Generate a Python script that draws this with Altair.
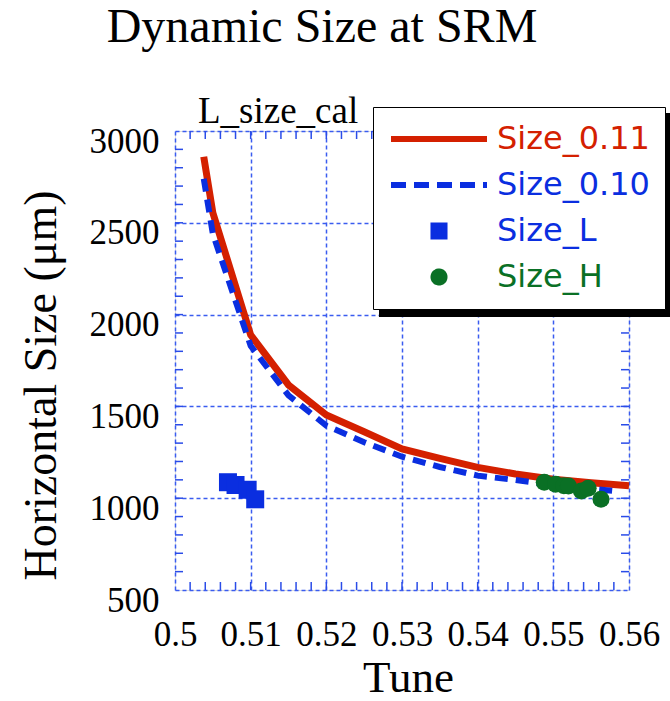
import altair as alt
import pandas as pd

# Beam size at the synchrotron radiation monitor versus tune
SERIES = ["Size_0.11", "Size_0.10", "Size_L", "Size_H"]
COLORS = ["#d42000", "#0a2ee0", "#0a2ee0", "#0a7025"]

tune_011 = [0.5038, 0.505, 0.51, 0.515, 0.52, 0.525, 0.53, 0.535, 0.54, 0.545, 0.55, 0.555, 0.56]
size_011 = [2860, 2555, 1889, 1617, 1453, 1362, 1268, 1217, 1168, 1132, 1103, 1084, 1068]

tune_010 = [0.5038, 0.505, 0.51, 0.515, 0.52, 0.525, 0.53, 0.535, 0.54, 0.545, 0.55, 0.555, 0.558]
size_010 = [2740, 2440, 1830, 1560, 1395, 1305, 1226, 1170, 1123, 1099, 1072, 1052, 1040]

tune_L = [0.5070, 0.5080, 0.5096, 0.5106]
size_L = [1087, 1072, 1046, 994]

tune_H = [0.5488, 0.5503, 0.5514, 0.5520, 0.5537, 0.5546, 0.5563]
size_H = [1087, 1076, 1068, 1067, 1039, 1054, 994]

x_major = [0.50, 0.51, 0.52, 0.53, 0.54, 0.55, 0.56]
y_major = [500, 1000, 1500, 2000, 2500, 3000]
x_minor = [round(0.500 + 0.002 * i, 3) for i in range(1, 30)]
y_minor = [500 + 100 * i for i in range(1, 25)]

W, H = 454, 459
FRAME = "#2a4ce8"
GRID = "#3a5cf0"
SERIF = "Liberation Serif"
SANS = "DejaVu Sans"

df_011 = pd.DataFrame({"tune": tune_011, "size": size_011, "series": "Size_0.11"})
df_010 = pd.DataFrame({"tune": tune_010, "size": size_010, "series": "Size_0.10"})
df_L = pd.DataFrame({"tune": tune_L, "size": size_L, "series": "Size_L"})
df_H = pd.DataFrame({"tune": tune_H, "size": size_H, "series": "Size_H"})

x_scale = alt.Scale(domain=[0.5, 0.56], nice=False, zero=False)
y_scale = alt.Scale(domain=[500, 3000], nice=False, zero=False)
c_scale = alt.Scale(domain=SERIES, range=COLORS)

x_axis = alt.Axis(
    values=x_major, format=".2~f", grid=True, gridColor=GRID, gridDash=[4, 3], gridWidth=1.5,
    ticks=False, domain=False, labelFont=SERIF, labelFontSize=35, labelColor="black",
    labelPadding=27, labelFlush=False, labelOverlap=False,
    title="Tune", titleFont=SERIF, titleFontSize=45, titleFontWeight="normal", titleColor="black",
    titleX=233, titleY=101, titleAlign="center", titleBaseline="alphabetic",
)
y_axis = alt.Axis(
    values=y_major, format="d", grid=True, gridColor=GRID, gridDash=[4, 3], gridWidth=1.5,
    ticks=False, domain=False, labelFont=SERIF, labelFontSize=35, labelColor="black",
    labelPadding=16, labelOffset=10, labelFlush=False, labelOverlap=False,
    title="Horizontal Size (μm)", titleFont=SERIF, titleFontSize=46, titleFontWeight="normal",
    titleColor="black", titleX=-120, titleY=254, titleAlign="center", titleBaseline="alphabetic",
)

# one legend: line samples for the two curves, square / circle for the measurements.
# symbols share one 96 px frame; the marker paths are drawn small inside it.
is_point = "indexof(['Size_L','Size_H'], datum.value) >= 0"
SQUARE = "M-0.115,-0.115H0.115V0.115H-0.115Z"
CIRCLE = "M-0.115,0A0.115,0.115,0,1,1,0.115,0A0.115,0.115,0,1,1,-0.115,0Z"
legend = alt.Legend(
    title=None, orient="none", legendX=198, legendY=-24,
    fillColor="white", strokeColor="black", padding=15,
    clipHeight=34, rowPadding=12,
    symbolType={"expr": f"{is_point} ? (datum.value == 'Size_L' ? '{SQUARE}' : '{CIRCLE}') : 'stroke'"},
    symbolSize=9216,
    symbolStrokeWidth=6,
    symbolDash={"expr": "datum.value == 'Size_0.10' ? [15, 8] : [1, 0]"},
    symbolFillColor={"expr": "scale('color', datum.value)"},
    symbolStrokeColor={"expr": "scale('color', datum.value)"},
    symbolOpacity=1,
    labelColor={"expr": "scale('color', datum.value)"},
    labelFont=SANS, labelFontSize=32, labelOffset=7, labelLimit=400, labelBaseline="middle",
)

X = alt.X("tune:Q", scale=x_scale, axis=x_axis)
Y = alt.Y("size:Q", scale=y_scale, axis=y_axis)

# inward minor ticks on all four sides of the frame
ticks_bottom = alt.Chart(pd.DataFrame({"t": x_minor})).mark_rule(color=FRAME, strokeWidth=1.5).encode(
    x=alt.X("t:Q", scale=x_scale), y=alt.value(H), y2=alt.value(H - 8))
ticks_top = alt.Chart(pd.DataFrame({"t": x_minor})).mark_rule(color=FRAME, strokeWidth=1.5).encode(
    x=alt.X("t:Q", scale=x_scale), y=alt.value(0), y2=alt.value(8))
ticks_left = alt.Chart(pd.DataFrame({"v": y_minor})).mark_rule(color=FRAME, strokeWidth=1.5).encode(
    y=alt.Y("v:Q", scale=y_scale), x=alt.value(0), x2=alt.value(8))
ticks_right = alt.Chart(pd.DataFrame({"v": y_minor})).mark_rule(color=FRAME, strokeWidth=1.5).encode(
    y=alt.Y("v:Q", scale=y_scale), x=alt.value(W), x2=alt.value(W - 8))

line_011 = alt.Chart(df_011).mark_line(strokeWidth=7, strokeJoin="miter").encode(
    x=X, y=Y, color=alt.Color("series:N", scale=c_scale, legend=legend))
line_010 = alt.Chart(df_010).mark_line(strokeWidth=6, strokeDash=[13, 8]).encode(
    x=X, y=Y, color=alt.Color("series:N", scale=c_scale, legend=None))
pts_L = alt.Chart(df_L).mark_square(size=324, opacity=1).encode(
    x=X, y=Y, color=alt.Color("series:N", scale=c_scale, legend=None))
pts_H = alt.Chart(df_H).mark_circle(size=290, opacity=1).encode(
    x=X, y=Y, color=alt.Color("series:N", scale=c_scale, legend=None))

# drop shadow behind the legend box
shadow = alt.Chart(pd.DataFrame({"k": [0]})).mark_rect(color="black").encode(
    x=alt.value(204), x2=alt.value(500), y=alt.value(-18), y2=alt.value(186))

plot_name = alt.Chart(pd.DataFrame({"k": [0]})).mark_text(
    text="L_size_cal", font=SERIF, fontSize=37, align="left", baseline="alphabetic", color="black"
).encode(x=alt.value(23), y=alt.value(-8))

chart = alt.layer(
    ticks_bottom, ticks_top, ticks_left, ticks_right,
    line_011, line_010, pts_L, pts_H, shadow, plot_name,
).properties(
    width=W, height=H,
    title=alt.TitleParams(
        "Dynamic Size at SRM", font=SERIF, fontSize=48, fontWeight="normal", color="black",
        anchor="middle", frame="group", dx=-80, dy=-37,
    ),
    padding={"left": 175, "top": 131, "right": 41, "bottom": 111},
    autosize=alt.AutoSizeParams(type="none"),
).configure_view(
    stroke=FRAME, strokeWidth=2
).configure_legend(
    strokeWidth=2.5
).configure(background="white")

chart.save("out.html", embed_options={"renderer": "svg", "actions": False})
